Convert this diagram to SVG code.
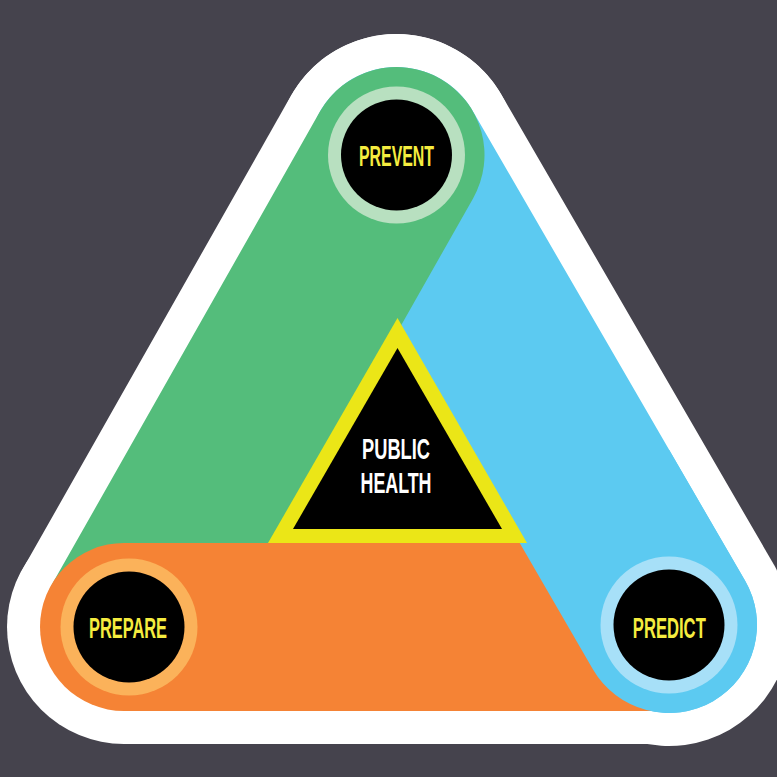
<svg xmlns="http://www.w3.org/2000/svg" width="777" height="777" viewBox="0 0 777 777">
  <defs>
    <clipPath id="clipBR">
      <rect x="500" y="450" width="300" height="350"/>
    </clipPath>
    <clipPath id="clipTop">
      <rect x="-50" y="-50" width="900" height="677"/>
    </clipPath>
    <style>
      .band { fill: none; stroke-linecap: round; }
      .halo { stroke: #ffffff; }
      .lbl { font-family: "Liberation Sans", Arial, sans-serif; font-weight: bold; font-size: 29px; fill: #f5ec3f; text-anchor: middle; }
      .ctr { font-family: "Liberation Sans", Arial, sans-serif; font-weight: bold; font-size: 30px; fill: #ffffff; text-anchor: middle; }
    </style>
  </defs>
  <rect x="0" y="0" width="777" height="777" fill="#45434d"/>

  <g id="connectors">
    <g id="outline">
      <line class="band halo" x1="396.5" y1="155" x2="129" y2="627" stroke-width="242" clip-path="url(#clipTop)"/>
      <line class="band halo" x1="396.5" y1="155" x2="669" y2="625" stroke-width="242"/>
      <line class="band halo" x1="124" y1="627" x2="669" y2="627" stroke-width="234"/>
    </g>
    <line id="band-predict" class="band" x1="396.5" y1="155" x2="669" y2="625" stroke="#5ccaf1" stroke-width="176"/>
    <line id="band-prevent" class="band" x1="396.5" y1="155" x2="129" y2="627" stroke="#54bd7b" stroke-width="176" clip-path="url(#clipTop)"/>
    <line id="band-prepare" class="band" x1="124" y1="627" x2="669" y2="627" stroke="#f58335" stroke-width="168"/>
    <line class="band" x1="396.5" y1="155" x2="669" y2="625" stroke="#5ccaf1" stroke-width="176" clip-path="url(#clipBR)"/>
  </g>

  <g id="public-health">
    <polygon points="397.5,318 268,543 527,543" fill="#ebe617"/>
    <polygon points="397.5,348 293,529 502,529" fill="#000000"/>
    <text class="ctr" x="396" y="459.3" textLength="68" lengthAdjust="spacingAndGlyphs">PUBLIC</text>
    <text class="ctr" x="396" y="493.3" textLength="71" lengthAdjust="spacingAndGlyphs">HEALTH</text>
  </g>

  <g id="prevent">
    <circle cx="396.5" cy="155" r="68.5" fill="#b8e0c0"/>
    <circle cx="396.5" cy="155" r="55.5" fill="#000000"/>
    <text class="lbl" x="396.5" y="165.5" textLength="75" lengthAdjust="spacingAndGlyphs">PREVENT</text>
  </g>

  <g id="prepare">
    <circle cx="129" cy="627" r="68.5" fill="#fbb25a"/>
    <circle cx="129" cy="627" r="55.5" fill="#000000"/>
    <text class="lbl" x="128" y="637.7" textLength="78" lengthAdjust="spacingAndGlyphs">PREPARE</text>
  </g>

  <g id="predict">
    <circle cx="669" cy="625" r="68.5" fill="#a7e0f8"/>
    <circle cx="669" cy="625" r="55.5" fill="#000000"/>
    <text class="lbl" x="669.3" y="637.7" textLength="73" lengthAdjust="spacingAndGlyphs">PREDICT</text>
  </g>
</svg>
